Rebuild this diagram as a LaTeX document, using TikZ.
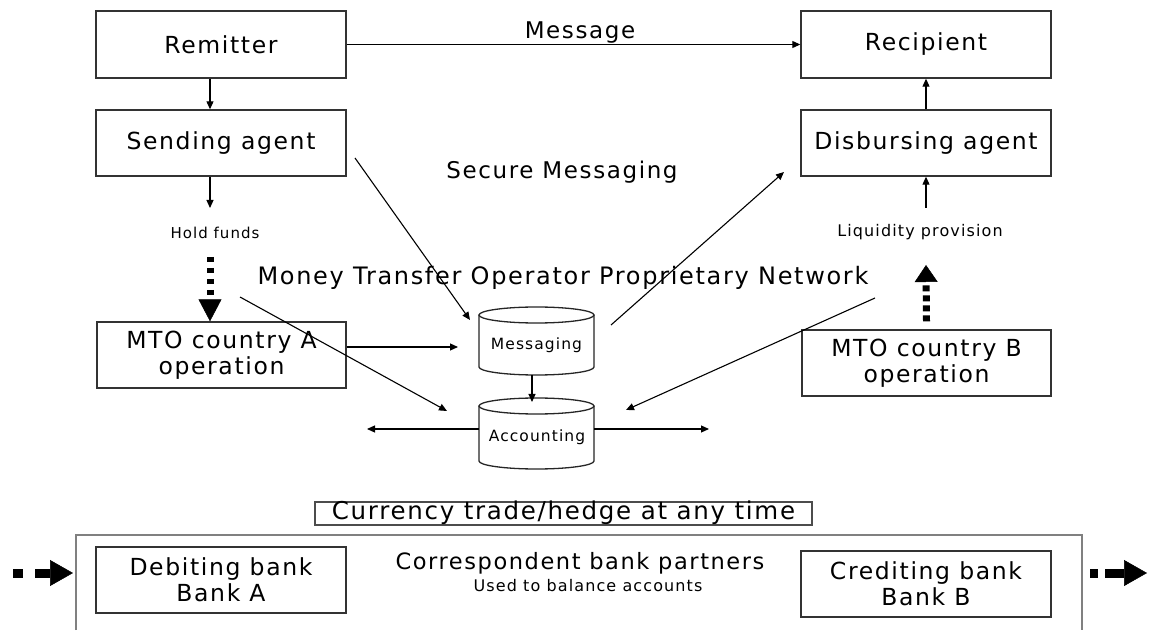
\documentclass[tikz,border=0pt]{standalone}
\usepackage{fontspec}
\setmainfont{DejaVu Sans}[LetterSpace=7]
\usetikzlibrary{arrows.meta,calc}
\tikzset{
  box/.style={draw=black!80, line width=1.4pt, minimum width=250pt, minimum height=66pt,
    inner sep=0pt, align=center, font=\fontsize{23.5}{26}\selectfont},
  arr/.style={draw=black, line width=1.1pt, -{Triangle[length=8pt,width=7pt]}},
  lbl/.style={inner sep=0pt, font=\fontsize{23}{27}\selectfont},
  small/.style={inner sep=0pt, font=\fontsize{16}{19}\selectfont},
  cyl/.style={draw=black!85, line width=1.3pt, fill=white},
  dotarr/.style={line width=7pt, dash pattern=on 5pt off 6pt,
    -{Triangle[length=22pt,width=23pt,line width=0.5pt]}},
  dotarrup/.style={line width=7pt, dash pattern=on 6pt off 4pt,
    -{Triangle[length=17pt,width=23pt,line width=0.5pt]}},
  fatarr/.style={line width=9pt, -{Triangle[length=23pt,width=26pt,line width=0.5pt]}},
}
\begin{document}
\begin{tikzpicture}[x=1pt,y=1pt]
\useasboundingbox (0,0) rectangle (1149,630);

% boxes
\node[box, minimum height=67pt] (rem) at (221,585.5) {Remitter};
\node[box] (send) at (221,487) {Sending agent};
\node[box, minimum width=249pt] (mtoa) at (221.5,275) {MTO country A\\operation};
\node[box, minimum height=67pt] (rec) at (926,585.5) {Recipient};
\node[box] (dis) at (926,487) {Disbursing agent};
\node[box, minimum width=249pt] (mtob) at (926.5,267) {MTO country B\\operation};
\node[box] (deb) at (221,50) {Debiting bank\\Bank A};
\node[box] (cred) at (926,46) {Crediting bank\\Bank B};

% texts
\node[lbl] (msglbl) at (580,597) {Message};
\node[lbl] (secure) at (562,458) {Secure Messaging};
\node[lbl, font=\fontsize{24}{28}\selectfont] (mton) at (563,352) {Money Transfer Operator Proprietary Network};
\node[small, font=\fontsize{15}{18}\selectfont] (hold) at (215,397) {Hold funds};
\node[small] (liq) at (920,398) {Liquidity provision};
\node[lbl, font=\fontsize{22.5}{26}\selectfont] (corr) at (580,67) {Correspondent bank partners};
\node[small] (used) at (588,44) {Used to balance accounts};
\node[draw=black!70, line width=1.2pt, minimum width=497pt, minimum height=23pt, inner sep=0pt,
  text height=17pt, text depth=5pt, font=\fontsize{24.5}{28}\selectfont] (cur) at (563.5,116.5) {Currency trade/hedge at any time};

% outer frame
\draw[draw=black!50, line width=2pt] (76,0) -- (76,95) -- (1082,95) -- (1082,0);

% cylinders
\draw[cyl] (479,315) -- (479,263) arc[start angle=180, end angle=360, x radius=57.5, y radius=8] -- (594,315);
\draw[cyl] (536.5,315) ellipse [x radius=57.5, y radius=8];
\node[small, font=\fontsize{15.5}{18}\selectfont] (msg) at (536.5,285) {Messaging};
\draw[cyl] (479,224) -- (479,169) arc[start angle=180, end angle=360, x radius=57.5, y radius=8] -- (594,224);
\draw[cyl] (536.5,224) ellipse [x radius=57.5, y radius=8];
\node[small, font=\fontsize{15.5}{18}\selectfont] (acc) at (537,193) {Accounting};

% coordinates
\coordinate (hfA) at (210,422);
\coordinate (hfB) at (210,373);
\coordinate (lqA) at (926,422);
\coordinate (lqB) at (926,365);
\coordinate (sa1) at (355,472);
\coordinate (sa2) at (470,310);
\coordinate (ma2) at (458,283);
\coordinate (x1) at (240,333);
\coordinate (x2) at (447,219);
\coordinate (md1) at (611,305);
\coordinate (md2) at (784,458);
\coordinate (mb1) at (875,332);
\coordinate (mb2) at (626,220);
\coordinate (msgB) at (532,255);
\coordinate (accT) at (532,228);
\coordinate (accL) at (479,201);
\coordinate (accR) at (594,201);
\coordinate (outL) at (367,201);
\coordinate (outR) at (709,201);

% connectors
\draw[arr] ([xshift=-11pt]rem.south) -- ([xshift=-11pt]send.north);
\draw[arr] ([xshift=-11pt]send.south) -- (hfA);
\draw[dotarr] (hfB) -- ([xshift=-11.5pt]mtoa.north);
\draw[arr] (rem.east) -- (rec.west);
\draw[arr] (dis.north) -- (rec.south);
\draw[arr] (lqA) -- (dis.south);
\draw[dotarrup] ([yshift=8pt]mtob.north) -- (lqB);
\draw[arr] (sa1) -- (sa2);
\draw[arr] ([yshift=8pt]mtoa.east) -- (ma2);
\draw[arr] (x1) -- (x2);
\draw[arr] (md1) -- (md2);
\draw[arr] (mb1) -- (mb2);
\draw[arr] (msgB) -- (accT);
\draw[arr] (accL) -- (outL);
\draw[arr] (accR) -- (outR);

% bottom fat arrows
\coordinate (la0) at (13,57);
\coordinate (la1) at (23,57);
\coordinate (la2) at (35,57);
\coordinate (la3) at (73,57);
\coordinate (ra0) at (1090,57);
\coordinate (ra1) at (1098,57);
\coordinate (ra2) at (1105,57);
\coordinate (ra3) at (1147,57);
\draw[line width=9pt] (la0) -- (la1);
\draw[fatarr] (la2) -- (la3);
\draw[line width=9pt] (ra0) -- (ra1);
\draw[fatarr] (ra2) -- (ra3);
\end{tikzpicture}
\end{document}
